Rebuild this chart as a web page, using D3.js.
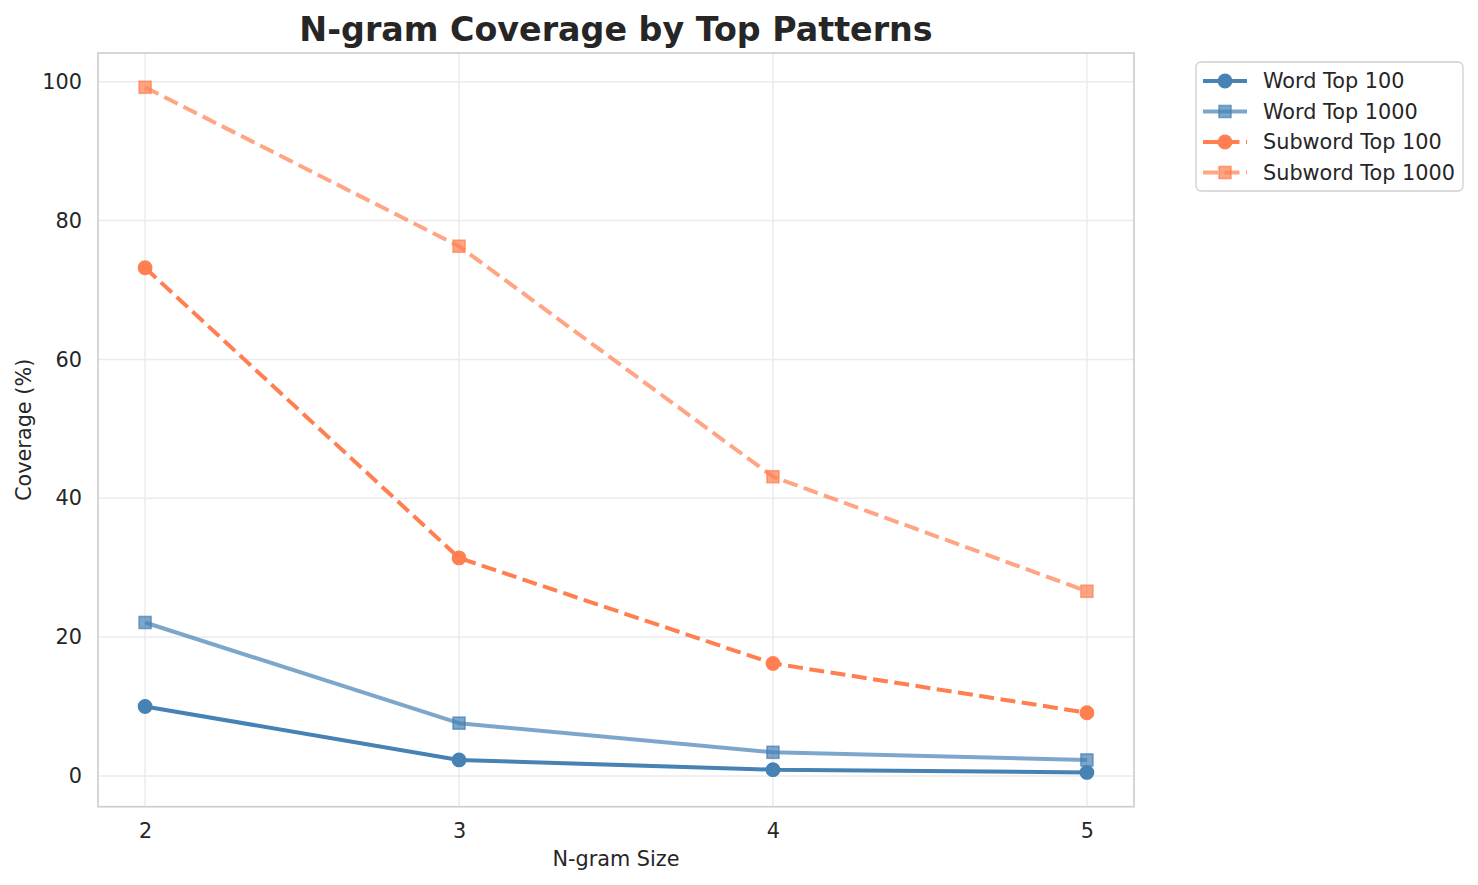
<!DOCTYPE html>
<html>
<head>
<meta charset="utf-8">
<script src="https://cdn.jsdelivr.net/npm/d3@7"></script>
<style>
  html, body { margin: 0; padding: 0; background: #fff; }
  svg { display: block; font-family: "DejaVu Sans", sans-serif; }
</style>
</head>
<body>
<svg id="chart" width="1478" height="885"></svg>
<script>
const ngramSizes = [2, 3, 4, 5];
const wordTop100 = [10.0, 2.3, 0.9, 0.5];
const wordTop1000 = [22.1, 7.6, 3.4, 2.3];
const subwordTop100 = [73.2, 31.4, 16.2, 9.1];
const subwordTop1000 = [99.2, 76.3, 43.1, 26.6];
const yTicks = [0, 20, 40, 60, 80, 100];
const seriesNames = ["Word Top 100", "Word Top 1000", "Subword Top 100", "Subword Top 1000"];

const series = [
  { name: seriesNames[0], values: wordTop100, color: "#4682b4", alpha: 1, dash: null, marker: "circle" },
  { name: seriesNames[1], values: wordTop1000, color: "#4682b4", alpha: 0.7, dash: null, marker: "square" },
  { name: seriesNames[2], values: subwordTop100, color: "#ff7f50", alpha: 1, dash: "15,6.5", marker: "circle" },
  { name: seriesNames[3], values: subwordTop1000, color: "#ff7f50", alpha: 0.7, dash: "15,6.5", marker: "square" }
];

const svg = d3.select("#chart");
const L = 98, R = 1134, T = 53, B = 806.7;
const FS = "20.8px";

const allVals = series.flatMap(s => s.values);
const vmin = d3.min(allVals), vmax = d3.max(allVals);
const pad = (vmax - vmin) * 0.05;
const x = d3.scaleLinear().domain([2 - 0.15, 5 + 0.15]).range([L, R]);
const y = d3.scaleLinear().domain([vmin - pad, vmax + pad]).range([B, T]);

const textColor = "#262626";

// grid
const grid = svg.append("g");
grid.selectAll(".gx").data(ngramSizes).enter().append("line")
  .attr("x1", d => x(d)).attr("x2", d => x(d)).attr("y1", T).attr("y2", B)
  .attr("stroke", "#ebebeb").attr("stroke-width", 1.5);
grid.selectAll(".gy").data(yTicks).enter().append("line")
  .attr("x1", L).attr("x2", R).attr("y1", d => y(d)).attr("y2", d => y(d))
  .attr("stroke", "#ebebeb").attr("stroke-width", 1.5);

// axes
const xAxis = svg.append("g").attr("transform", `translate(0,${B})`)
  .call(d3.axisBottom(x).tickValues(ngramSizes).tickFormat(d3.format("d")).tickSize(0).tickPadding(17));
const yAxis = svg.append("g").attr("transform", `translate(${L},0)`)
  .call(d3.axisLeft(y).tickValues(yTicks).tickFormat(d3.format("d")).tickSize(0).tickPadding(16));
[xAxis, yAxis].forEach(a => {
  a.select(".domain").remove();
  a.selectAll("text").attr("fill", textColor).style("font-size", FS).style("font-family", "DejaVu Sans");
});

// frame
svg.append("rect").attr("x", L).attr("y", T).attr("width", R - L).attr("height", B - T)
  .attr("fill", "none").attr("stroke", "#cccccc").attr("stroke-width", 1.6);

// lines
const line = d3.line().x((d, i) => x(ngramSizes[i])).y(d => y(d));
const plot = svg.append("g");
series.forEach(s => {
  plot.append("path").datum(s.values)
    .attr("d", line)
    .attr("fill", "none")
    .attr("stroke", s.color)
    .attr("stroke-opacity", s.alpha)
    .attr("stroke-width", 4)
    .attr("stroke-dasharray", s.dash)
    .attr("stroke-linejoin", "round");
  const g = plot.append("g");
  s.values.forEach((v, i) => drawMarker(g, s, x(ngramSizes[i]), y(v)));
});

function drawMarker(g, s, cx, cy) {
  if (s.marker === "circle") {
    g.append("circle").attr("cx", cx).attr("cy", cy).attr("r", 6.8)
      .attr("fill", s.color).attr("fill-opacity", s.alpha)
      .attr("stroke", s.color).attr("stroke-opacity", s.alpha).attr("stroke-width", 1.2);
  } else {
    const h = 6;
    g.append("rect").attr("x", cx - h).attr("y", cy - h).attr("width", 2 * h).attr("height", 2 * h)
      .attr("fill", s.color).attr("fill-opacity", s.alpha)
      .attr("stroke", s.color).attr("stroke-opacity", s.alpha).attr("stroke-width", 1.6);
  }
}

// title and labels
svg.append("text").attr("x", (L + R) / 2).attr("y", 41).attr("text-anchor", "middle")
  .attr("fill", textColor).style("font-size", "33.3px").style("font-weight", "bold")
  .text("N-gram Coverage by Top Patterns");
svg.append("text").attr("x", (L + R) / 2).attr("y", 866).attr("text-anchor", "middle")
  .attr("fill", textColor).style("font-size", FS).text("N-gram Size");
svg.append("text").attr("transform", `translate(31,${(T + B) / 2}) rotate(-90)`).attr("text-anchor", "middle")
  .attr("fill", textColor).style("font-size", FS).text("Coverage (%)");

// legend
const lg = svg.append("g");
lg.append("rect").attr("x", 1196).attr("y", 62).attr("width", 267).attr("height", 129)
  .attr("rx", 5).attr("fill", "#fff").attr("fill-opacity", 0.8)
  .attr("stroke", "#d0d0d0").attr("stroke-width", 1.3);
series.forEach((s, i) => {
  const cy = 81 + i * 30.5;
  lg.append("line").attr("x1", 1203).attr("x2", 1247).attr("y1", cy).attr("y2", cy)
    .attr("stroke", s.color).attr("stroke-opacity", s.alpha).attr("stroke-width", 4)
    .attr("stroke-dasharray", s.dash ? "15,6.5" : null);
  drawMarker(lg, s, 1225, cy);
  lg.append("text").attr("x", 1263).attr("y", cy + 7).attr("fill", textColor)
    .style("font-size", FS).text(s.name);
});
</script>
</body>
</html>
